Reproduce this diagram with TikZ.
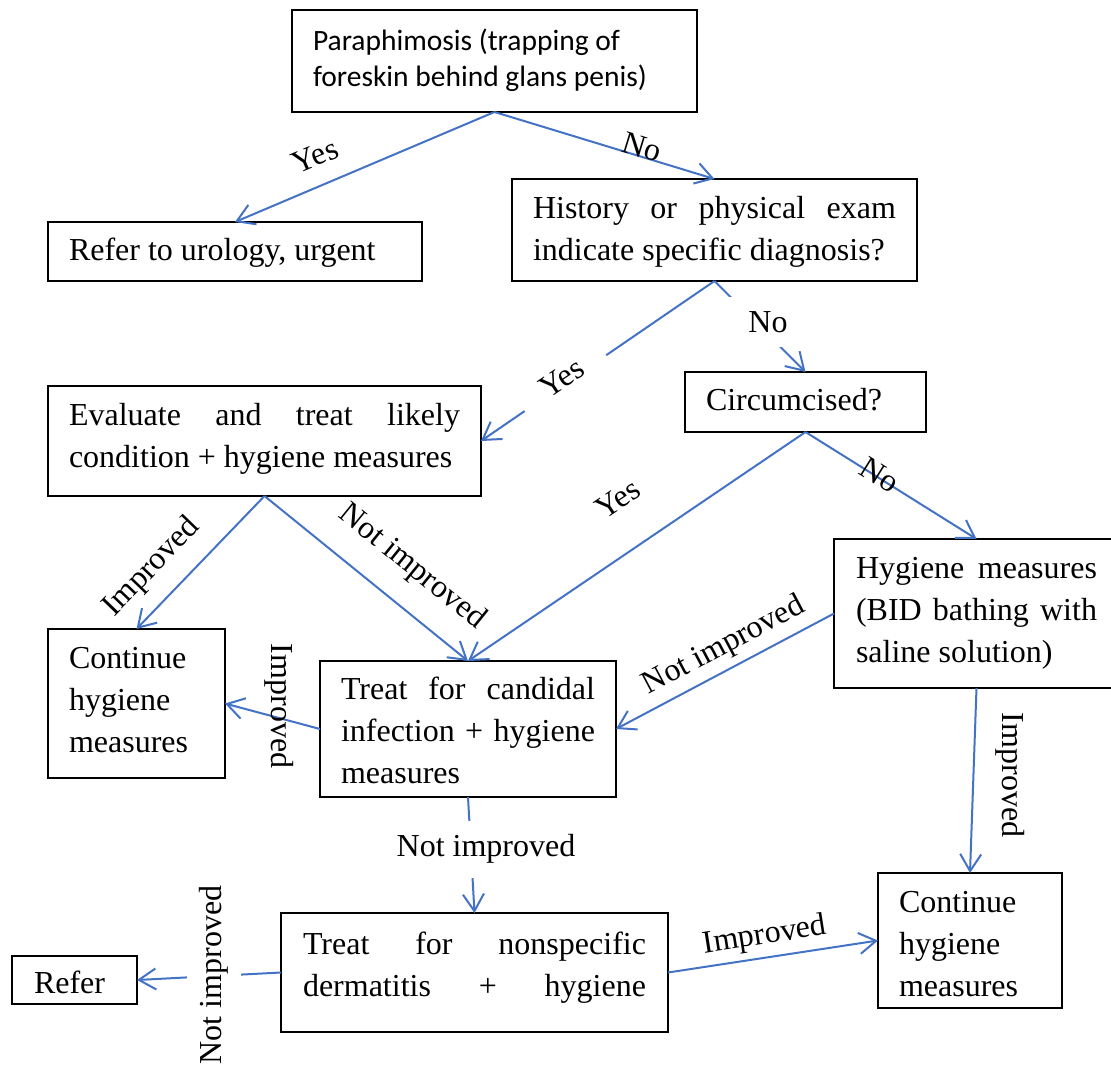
\documentclass[tikz,border=0pt]{standalone}
\usepackage{fontspec}
\setmainfont{Liberation Serif}
\newfontfamily\calibfont{Carlito}
\usetikzlibrary{arrows.meta}
\definecolor{flowblue}{HTML}{4472C4}
% the lines of a box, stacked with the font's own interword glue; each line
% spread to the full text width (\jline) or kept at its natural width (\pline)
\newcommand\lines[1]{\vtop{\spaceskip=0pt\xspaceskip=0pt\relax #1}}
\newcommand\jline[1]{\hbox to\hsize{#1}}
\newcommand\pline[1]{\hbox{#1}}
\begin{document}
\begin{tikzpicture}[x=1pt,y=-1pt,
  box/.style={draw=black, line width=1.8pt, anchor=north west,
    inner ysep=0pt, outer sep=0pt, font=\fontsize{32}{42}\selectfont},
  flow/.style={draw=flowblue, line width=2pt,
    -{Straight Barb[length=17pt,width=21pt]}},
  lbl/.style={font=\fontsize{32}{38}\selectfont, inner sep=0pt},
  gap/.style={fill=white}]
\fill[white] (0,0) rectangle (1111,1066);
\useasboundingbox (0,0) rectangle (1111,1066);

% boxes
\node[box, inner xsep=21pt, text width=363pt, text height=40pt, text depth=62pt,
  font=\calibfont\fontsize{29.5}{36}\selectfont] (para) at (292,10)
  {\lines{\pline{Paraphimosis (trapping of}\pline{foreskin behind glans penis)}}};
\node[box, inner xsep=21pt, text width=332pt, text height=38pt, text depth=21pt]
  (urol) at (48,222) {\lines{\pline{Refer to urology, urgent}}};
\node[box, inner xsep=21pt, text width=363pt, text height=39pt, text depth=63pt]
  (hist) at (512,179)
  {\lines{\jline{History or physical exam}\pline{indicate specific diagnosis?}}};
\node[box, inner xsep=21pt, text width=199pt, text height=38pt, text depth=22pt]
  (circ) at (685,372) {\lines{\pline{Circumcised?}}};
\node[box, inner xsep=21pt, text width=391pt, text height=39pt, text depth=71pt]
  (eval) at (48,386)
  {\lines{\jline{Evaluate and treat likely}\pline{condition + hygiene measures}}};
\node[box, inner xsep=21pt, text width=135pt, text height=39pt, text depth=110pt]
  (contL) at (48,629) {\lines{\pline{Continue}\pline{hygiene}\pline{measures}}};
\node[box, inner xsep=21pt, text width=254pt, text height=38pt, text depth=98pt]
  (cand) at (320,661)
  {\lines{\jline{Treat for candidal}\jline{infection + hygiene}\pline{measures}}};
\node[box, inner xsep=22pt, text width=241pt, text height=39pt, text depth=110pt]
  (hyg) at (834,539)
  {\lines{\jline{Hygiene measures}\jline{(BID bathing with}\pline{saline solution)}}};
\node[box, inner xsep=22pt, text width=343pt, text height=41pt, text depth=78pt]
  (nons) at (281,913)
  {\lines{\jline{Treat for nonspecific}\jline{dermatitis + hygiene}}};
\node[box, inner xsep=22pt, text width=81pt, text height=37pt, text depth=11pt]
  (refer) at (12,956) {\lines{\pline{Refer}}};
\node[box, inner xsep=21pt, text width=142pt, text height=39pt, text depth=96pt]
  (contR) at (878,873) {\lines{\pline{Continue}\pline{hygiene}\pline{measures}}};

% connectors
\draw[flow] (para.south) -- (urol.north);
\draw[flow] (para.south) -- (hist.north);
\draw[flow] (hist.south) -- (eval.east);
\draw[flow] (hist.south) -- (circ.north);
\draw[flow] (circ.south) -- (cand.north);
\draw[flow] (circ.south) -- (hyg.north);
\draw[flow] (eval.south) -- (contL.north);
\draw[flow] (eval.south) -- (cand.north);
\draw[flow] (cand.west) -- (contL.east);
\draw[flow] (hyg.west) -- (cand.east);
\draw[flow] (cand.south) -- (nons.north);
\draw[flow] (nons.west) -- (refer.east);
\draw[flow] (nons.east) -- (contR.west);
\draw[flow] (hyg.south) -- (contR.north);

% connector labels
\node[lbl, rotate=23] (l1) at (315,156) {Yes};
\node[lbl, rotate=-17] (l2) at (642,147) {No};
\node[lbl, gap, rotate=34, inner xsep=26pt, inner ysep=4pt] (l3) at (562,378) {Yes};
\node[lbl, gap, inner xsep=22pt, inner ysep=14pt] (l4) at (768,322) {No};
\node[lbl, rotate=34] (l5) at (618,499) {Yes};
\node[lbl, rotate=-32] (l6) at (880,475) {No};
\node[lbl, rotate=46] (l7) at (152,567) {Improved};
\node[lbl, rotate=-39] (l8) at (412,567) {Not improved};
\node[lbl, rotate=-90] (l9) at (279,706) {Improved};
\node[lbl, rotate=28] (l10) at (724,646) {Not improved};
\node[lbl, gap, inner xsep=2pt, inner ysep=14pt] (l11) at (486,849) {Not improved};
\node[lbl, gap, rotate=90, inner xsep=2pt, inner ysep=12pt] (l12) at (214,975) {Not improved};
\node[lbl, rotate=9] (l13) at (765,936) {Improved};
\node[lbl, rotate=-90] (l14) at (1010,775) {Improved};
\end{tikzpicture}
\end{document}
